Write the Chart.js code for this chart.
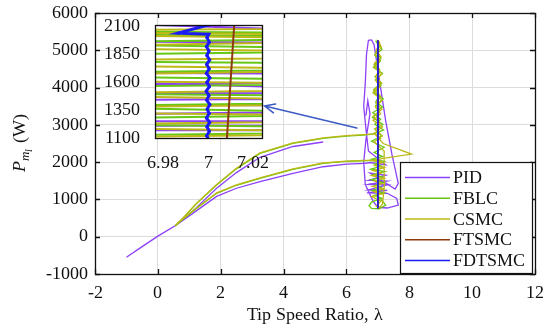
<!DOCTYPE html>
<html><head><meta charset="utf-8">
<script src="https://cdn.jsdelivr.net/npm/chart.js@4.4.0/dist/chart.umd.min.js"></script>
<style>
@font-face{font-family:'RefSerif';font-style:normal;font-weight:400;
 src:local('Liberation Serif'),local('LiberationSerif'),local('Liberation Serif Regular'),local('Tinos'),local('Tinos Regular'),local('Tinos-Regular'),local('Times New Roman'),local('TimesNewRomanPSMT');}
@font-face{font-family:'RefSerif';font-style:italic;font-weight:400;
 src:local('Liberation Serif Italic'),local('LiberationSerif-Italic'),local('Tinos Italic'),local('Tinos-Italic'),local('Times New Roman Italic'),local('TimesNewRomanPS-ItalicMT');}
html,body{margin:0;padding:0;background:#fff;}
#wrap{position:relative;width:550px;height:331px;overflow:hidden;}
#main{position:absolute;left:0;top:0;}
#inset{position:absolute;left:100px;top:15px;}
</style></head><body>
<div id="wrap"><canvas id="main" width="550" height="331"></canvas><canvas id="inset" width="170" height="160"></canvas></div>
<script>
const seriesNames = ['PID','FBLC','CSMC','FTSMC','FDTSMC'];
const xTicksMain = [-2,0,2,4,6,8,10,12];
const yTicksMain = [-1000,0,1000,2000,3000,4000,5000,6000];
const xTicksInset = [6.98,7,7.02];
const xTickLabelsInset = ['6.98','7','7.02'];
const yTicksInset = [1100,1350,1600,1850,2100];
const arrowFrom = [6.33, 2914];
const arrowTo = [3.40, 3504];

// [lambda, power] pairs; null = break in the trace
const pidPoints = [
 [-1,-550],[-0.5,-265],[0,15],[0.59,313],[1.2,760],[1.87,1300],[2.5,1720],[3.25,2130],[4.3,2420],[5.26,2540], null,
 [0.59,313],[1.2,680],[1.87,1080],[2.5,1300],[3.25,1475],[4.3,1700],[5.26,1877],[6.0,1945],[6.6,1968],
 [6.75,1990],[7.25,1930],[6.7,2300],[6.62,2900],[6.55,3500],[6.6,4120],[6.64,4900],[6.7,5270],[6.8,5280],[6.88,5150],
 [7.05,4200],[7.25,3100],[7.45,2200],[7.65,1430],[7.55,1280],[6.75,1710],[7.25,1650],[6.72,1515],[7.28,1490],[6.7,1400],
 [7.3,1390],[6.7,1255],[7.3,1245],[6.65,1175],[7.3,1165],[7.6,1030],[7.65,850],[7.3,770],[7.0,790],[6.85,950],
 [6.6,1400],[6.55,2000],[6.62,2600],[6.75,3300],[6.68,3650],[6.62,3250]
];
const fblcPoints = [
 [0.55,290],[0.8,493],[1.2,860],[1.87,1386],[2.5,1820],[3.25,2236],[4.3,2504],[5.26,2638],[6.0,2700],[6.54,2727],
 [6.82,2750],[7.18,2860],[6.9,3020],[7.09,3150],[6.84,3330],[7.15,3480],[6.93,3610],[7.06,3800],[6.86,3940],[7.12,4120],
 [6.91,4290],[7.08,4420],[6.88,4610],[7.1,4790],[6.94,4950],[7.05,5100],[6.95,5230],[7.03,5210],
 [7.13,5020],[6.9,4880],[7.07,4700],[6.86,4540],[7.15,4380],[6.92,4200],[7.1,4050],[6.85,3870],[7.17,3700],[6.93,3520],
 [7.08,3390],[6.83,3200],[7.16,3010],[6.9,2890],[7.12,2700],[6.8,2560],[7.2,2400],[6.88,2260],[7.15,2150],
 [6.8,2080],[7.2,2020],[6.9,1950],[7.12,1890],[6.78,1810],[7.22,1745],[6.86,1670],[7.15,1600],[6.8,1530],[7.18,1450],
 [6.92,1380],[7.1,1320],[6.82,1240],[7.2,1175],[6.88,1110],[7.12,1030],
 [6.8,930],[6.72,830],[6.8,760],[7.05,750],[7.25,850],[7.1,1000], null,
 [0.55,290],[0.8,470],[1.2,740],[1.87,1163],[2.5,1380],[3.25,1565],[4.3,1807],[5.26,1968],[6.0,2020],[6.54,2038],
 [6.85,2045],[7.2,1985]
];
const csmcPoints = [
 [0.55,300],[0.8,505],[1.2,875],[1.87,1400],[2.5,1835],[3.25,2250],[4.3,2515],[5.26,2650],[6.0,2712],[6.54,2740],
 [6.9,2760],[7.17,2500],[8.07,2217],[7.17,2100],
 [6.82,2045],[7.12,1985],[6.9,1910],[7.2,1850],[6.84,1775],[7.1,1710],[6.8,1635],[7.2,1565],[6.9,1490],[7.14,1420],
 [6.83,1350],[7.18,1280],[6.88,1205],[7.12,1145],[6.8,1075],[7.1,960],[6.95,820],[7.05,780],[7.15,880],[7.22,1500],[7.2,2300],
 [6.88,2540],[7.14,2700],[6.92,2880],[7.07,3060],[6.85,3230],[7.13,3420],[6.94,3580],[7.09,3760],[6.87,3930],[7.12,4110],
 [6.93,4300],[7.06,4480],[6.89,4650],[7.1,4830],[6.95,5000],[7.05,5170],[6.98,5260],[7.03,5250],
 [7.11,5070],[6.91,4900],[7.08,4730],[6.87,4560],[7.13,4370],[6.93,4200],[7.06,4020],[6.86,3850],[7.14,3660],[6.92,3480],
 [7.09,3300],[6.85,3120],[7.15,2950],[6.9,2780],[7.1,2620], null,
 [0.55,300],[0.8,480],[1.2,750],[1.87,1175],[2.5,1392],[3.25,1578],[4.3,1820],[5.26,1980],[6.0,2030],[6.54,2050],
 [6.9,2055],[7.15,2010]
];
const ftsmcPoints = [
 [7.0073,770],[7.0084,1100],[7.0116,2100],[7.015,3100],[7.018,4100],[7.021,5270]
];
const fdtsmcPoints = [
 [7,770],[7.0002,900],[6.9998,1000],[7.0004,1080],[6.9994,1120],[7.0006,1160],[6.9995,1200],[7.0007,1240],[6.9993,1280],
 [7.0005,1320],[6.9996,1360],[7.0008,1400],[6.9994,1440],[7.0004,1480],[6.9992,1520],[7.0006,1560],[6.9995,1600],
 [7.0008,1640],[6.9993,1680],[7.0005,1720],[6.9994,1760],[7.0007,1800],[6.9995,1840],[7.0004,1880],[6.9993,1920],
 [7.0006,1960],[6.9995,2000],[7.0003,2030],[6.9867,2040],[7.0,2113],[7.0002,2500],[6.9998,3500],[7.0001,4500],[7,5270]
];

const colors = ['#8C40F8','#66C814','#BEB816','#8E3B0C','#1A1AF5'];
let serif = "RefSerif";
let fsz = 18;

function toXY(pts){
  const out=[]; let lastX=0;
  for(const p of pts){
    if(p===null){ out.push({x:lastX,y:null}); }
    else { out.push({x:p[0],y:p[1]}); lastX=p[0]; }
  }
  return out;
}
function makeDatasets(w, blueW, bluePt){
  return [pidPoints,fblcPoints,csmcPoints,ftsmcPoints,fdtsmcPoints].map((pts,i)=>({
    label: seriesNames[i], data: toXY(pts), showLine:true,
    borderColor: colors[i], backgroundColor: colors[i],
    borderWidth: i===4 ? blueW : w, pointRadius: i===4 ? bluePt : 0, pointBorderWidth:0,
    tension:0, order: 5-i, clip: 0, spanGaps:false
  }));
}
function noPad(s){ s.paddingTop=0; s.paddingBottom=0; s.paddingLeft=0; s.paddingRight=0; }

const framePlugin = {
  id:'frame',
  afterDraw(chart){
    const {ctx, chartArea:a, scales:{x,y}} = chart;
    ctx.save();
    ctx.strokeStyle='#111'; ctx.lineWidth=1.3;
    ctx.beginPath();
    for(const v of xTicksMain){
      const px=Math.round(x.getPixelForValue(v))+0.5;
      ctx.moveTo(px,a.bottom); ctx.lineTo(px,a.bottom-5);
      ctx.moveTo(px,a.top); ctx.lineTo(px,a.top+5);
    }
    for(const v of yTicksMain){
      const py=Math.round(y.getPixelForValue(v))+0.5;
      ctx.moveTo(a.left,py); ctx.lineTo(a.left+5,py);
      ctx.moveTo(a.right,py); ctx.lineTo(a.right-5,py);
    }
    ctx.stroke();
    ctx.strokeRect(a.left+0.5,a.top+0.5,a.width,a.height);
    ctx.restore();
  }
};
const arrowPlugin = {
  id:'arrow',
  afterDatasetsDraw(chart){
    const {ctx, scales:{x,y}} = chart;
    const x1=x.getPixelForValue(arrowFrom[0]), y1=y.getPixelForValue(arrowFrom[1]);
    const x2=x.getPixelForValue(arrowTo[0]), y2=y.getPixelForValue(arrowTo[1]);
    const ang=Math.atan2(y1-y2,x1-x2);
    ctx.save();
    ctx.strokeStyle='#3D5CC4'; ctx.lineWidth=1.6; ctx.lineCap='round';
    ctx.beginPath(); ctx.moveTo(x1,y1); ctx.lineTo(x2,y2);
    const L=11, sp=0.42;
    ctx.moveTo(x2+L*Math.cos(ang+sp), y2+L*Math.sin(ang+sp)); ctx.lineTo(x2,y2);
    ctx.lineTo(x2+L*Math.cos(ang-sp), y2+L*Math.sin(ang-sp));
    ctx.stroke();
    ctx.restore();
  }
};
const legendPlugin = {
  id:'legendBox',
  afterDraw(chart){
    const ctx=chart.ctx;
    const bx=400.5, by=162.5, bw=132, bh=111;
    ctx.save();
    ctx.fillStyle='#fff'; ctx.fillRect(bx,by,bw,bh);
    ctx.strokeStyle='#111'; ctx.lineWidth=1.2; ctx.strokeRect(bx,by,bw,bh);
    ctx.font=fsz+'px '+serif; ctx.textBaseline='middle'; ctx.fillStyle='#111';
    chart.data.datasets.forEach((ds,i)=>{
      const yy=177.5+i*20.75;
      ctx.strokeStyle=ds.borderColor; ctx.lineWidth=1.6;
      ctx.beginPath(); ctx.moveTo(405,yy); ctx.lineTo(450,yy); ctx.stroke();
      ctx.fillText(ds.label,453,yy+1);
    });
    ctx.restore();
  }
};
const yTitlePlugin = {
  id:'yTitle',
  afterDraw(chart){
    const ctx=chart.ctx;
    ctx.save();
    ctx.translate(25,172); ctx.rotate(-Math.PI/2);
    ctx.fillStyle='#111'; ctx.textBaseline='alphabetic';
    let cx=0;
    ctx.font='italic '+fsz+'px '+serif; ctx.fillText('P',cx,0); cx+=ctx.measureText('P').width+0.5;
    ctx.font='italic 13px '+serif; ctx.fillText('m',cx,4); cx+=ctx.measureText('m').width;
    ctx.font='italic 10px '+serif; ctx.fillText('l',cx,7); cx+=ctx.measureText('l').width+1;
    ctx.font=fsz+'px '+serif; ctx.fillText(' (W)',cx,0);
    ctx.restore();
  }
};
const insetBg = {
  id:'insetBg',
  beforeDatasetsDraw(chart){
    const {ctx,chartArea:a}=chart;
    ctx.save(); ctx.fillStyle='#fff'; ctx.fillRect(a.left,a.top,a.width,a.height); ctx.restore();
  },
  afterDraw(chart){
    const {ctx,chartArea:a}=chart;
    ctx.save(); ctx.strokeStyle='#111'; ctx.lineWidth=1.3;
    ctx.strokeRect(a.left+0.5,a.top+0.5,a.width,a.height); ctx.restore();
  }
};

function build(){
new Chart(document.getElementById('main'),{
  type:'scatter',
  data:{datasets:makeDatasets(1.3,1.6,0)},
  options:{
    responsive:false, animation:false, events:[],
    layout:{padding:{top:13,right:15,left:0,bottom:0}},
    plugins:{legend:{display:false},tooltip:{enabled:false}},
    scales:{
      x:{type:'linear',min:-2,max:12,
        afterBuildTicks:s=>{s.ticks=xTicksMain.map(v=>({value:v}));},
        afterFit:s=>{s.height=57; noPad(s);},
        grid:{color:'#dcdcdc',lineWidth:1,drawTicks:false},
        border:{display:false},
        ticks:{color:'#111',font:{family:serif,size:fsz},padding:8,maxRotation:0,autoSkip:false,callback:v=>String(v)},
        title:{display:true,text:'Tip Speed Ratio, λ',color:'#111',font:{family:serif,size:fsz},padding:{top:0,bottom:5}}
      },
      y:{type:'linear',min:-1000,max:6000,
        afterBuildTicks:s=>{s.ticks=yTicksMain.map(v=>({value:v}));},
        afterFit:s=>{s.width=95; noPad(s);},
        grid:{color:'#dcdcdc',lineWidth:1,drawTicks:false},
        border:{display:false},
        ticks:{color:'#111',font:{family:serif,size:fsz},padding:7,autoSkip:false,callback:v=>String(v)}
      }
    }
  },
  plugins:[arrowPlugin,framePlugin,legendPlugin,yTitlePlugin]
});

new Chart(document.getElementById('inset'),{
  type:'scatter',
  data:{datasets:makeDatasets(2,3,1.6)},
  options:{
    responsive:false, animation:false, events:[],
    layout:{padding:{top:10,right:8,left:0,bottom:0}},
    plugins:{legend:{display:false},tooltip:{enabled:false}},
    scales:{
      x:{type:'linear',min:6.9764,max:7.024,
        afterBuildTicks:s=>{s.ticks=xTicksInset.map(v=>({value:v}));},
        afterFit:s=>{s.height=37; noPad(s);},
        grid:{display:false}, border:{display:false},
        ticks:{color:'#111',font:{family:serif,size:fsz},padding:6,maxRotation:0,autoSkip:false,callback:(v,i)=>xTickLabelsInset[i]}
      },
      y:{type:'linear',min:1100,max:2113,
        afterBuildTicks:s=>{s.ticks=yTicksInset.map(v=>({value:v}));},
        afterFit:s=>{s.width=55; noPad(s);},
        grid:{display:false}, border:{display:false},
        ticks:{color:'#111',font:{family:serif,size:fsz},padding:7,autoSkip:false,callback:v=>String(v)}
      }
    }
  },
  plugins:[insetBg]
});
}
let built=false;
function go(ok){ if(built) return; built=true; if(!ok){ serif="'DejaVu Serif'"; fsz=15; } build(); }
try{
  Promise.all([document.fonts.load("18px RefSerif"), document.fonts.load("italic 18px RefSerif")])
    .then(r=>go(r[0] && r[0].length>0), ()=>go(false));
  setTimeout(()=>go(false), 1500);
}catch(e){ go(false); }
</script>
</body></html>
